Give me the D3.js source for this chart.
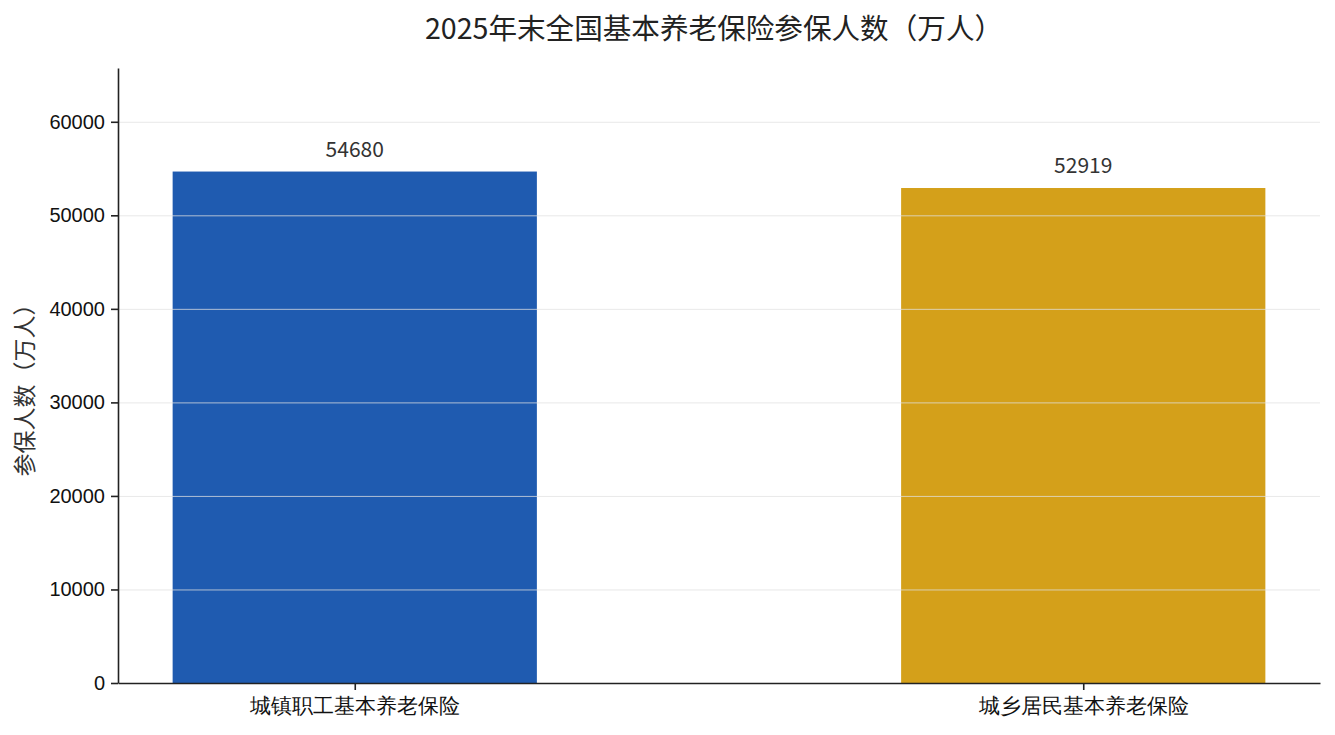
<!DOCTYPE html>
<html>
<head>
<meta charset="utf-8">
<title>2025年末全国基本养老保险参保人数</title>
<style>
    body { margin: 0; background: #fff; }
    svg { display: block; font-family: "Noto Sans CJK SC", "Noto Sans", sans-serif; }
    .axis .domain { stroke: #222; stroke-width: 1.6; }
    .axis line { stroke: #222; stroke-width: 1.6; }
    .axis text { fill: #111; }
</style>
<script src="https://cdn.jsdelivr.net/npm/d3@7/dist/d3.min.js"></script>
</head>
<body>
<svg width="1335" height="735"></svg>
<script>
    // data
    var categories = ["城镇职工基本养老保险", "城乡居民基本养老保险"];
    var values = [54680, 52919];
    var colors = ["#1f5bb0", "#d4a01a"];
    var yTicks = [0, 10000, 20000, 30000, 40000, 50000, 60000];
    var yMax = 65750;

    var svg = d3.select("svg"),
        margin = {top: 68, right: 15, bottom: 52, left: 118},
        width = +svg.attr("width") - margin.left - margin.right,
        height = +svg.attr("height") - margin.top - margin.bottom,
        g = svg.append("g").attr("transform", "translate(" + margin.left + "," + margin.top + ")");

    // bar positions by index, like matplotlib with 5% margins
    var x = d3.scaleLinear()
        .domain([-0.325, categories.length - 1 + 0.325])
        .range([0, width]);
    var barW = x(0.25) - x(-0.25);

    var y = d3.scaleLinear()
        .domain([0, yMax])
        .range([height, 0]);

    var data = categories.map(function (c, i) {
        return {name: c, value: values[i], color: colors[i], i: i};
    });

    g.selectAll("rect.bar")
        .data(data)
        .enter().append("rect")
        .attr("class", "bar")
        .attr("x", function (d) { return x(d.i) - barW / 2; })
        .attr("y", function (d) { return y(d.value); })
        .attr("width", barW)
        .attr("height", function (d) { return height - y(d.value); })
        .attr("fill", function (d) { return d.color; });

    // grid sits above the bars
    g.append("g")
        .selectAll("line")
        .data(yTicks.slice(1))
        .enter().append("line")
        .attr("x1", 0)
        .attr("x2", width)
        .attr("y1", function (d) { return y(d) + 0.5; })
        .attr("y2", function (d) { return y(d) + 0.5; })
        .attr("stroke", "#e0e0e0")
        .attr("stroke-opacity", 0.75)
        .attr("stroke-width", 1);

    g.selectAll("text.val")
        .data(data)
        .enter().append("text")
        .attr("class", "val")
        .attr("x", function (d) { return x(d.i); })
        .attr("y", function (d) { return y(d.value) - 15; })
        .attr("text-anchor", "middle")
        .attr("font-size", 21)
        .attr("fill", "#333")
        .text(function (d) { return d.value; });

    var xAxis = g.append("g")
        .attr("class", "axis")
        .attr("transform", "translate(0," + height + ")")
        .call(d3.axisBottom(x)
            .tickValues(d3.range(categories.length))
            .tickFormat(function (i) { return categories[i]; })
            .tickSize(7)
            .tickSizeOuter(0)
            .tickPadding(8));
    xAxis.selectAll("text").attr("font-size", 20.6);

    var yAxis = g.append("g")
        .attr("class", "axis")
        .call(d3.axisLeft(y)
            .tickValues(yTicks)
            .tickFormat(d3.format("d"))
            .tickSize(7)
            .tickSizeOuter(0)
            .tickPadding(6));
    yAxis.selectAll("text").attr("font-size", 20);

    svg.append("text")
        .attr("transform", "translate(33," + (margin.top + height / 2 + 9) + ") rotate(-90)")
        .attr("text-anchor", "middle")
        .attr("font-size", 23)
        .attr("fill", "#333")
        .text("参保人数（万人）");

    svg.append("text")
        .attr("x", margin.left + width / 2 - 5)
        .attr("y", 39)
        .attr("text-anchor", "middle")
        .attr("font-size", 28.6)
        .attr("fill", "#222")
        .text("2025年末全国基本养老保险参保人数（万人）");
</script>
</body>
</html>
